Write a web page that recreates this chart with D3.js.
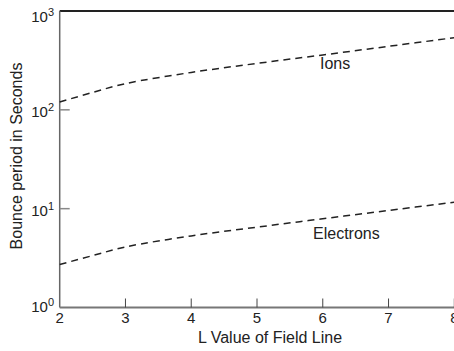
<!DOCTYPE html>
<html>
<head>
<meta charset="utf-8">
<script src="https://cdn.jsdelivr.net/npm/d3@7"></script>
<style>
  body { margin: 0; background: #fff; }
  text { font-family: "Liberation Sans", Arial, sans-serif; fill: #222; }
</style>
</head>
<body>
<div id="chart"></div>
<script>
// values
var lValues   = [2, 2.5, 3, 4, 5, 6, 7, 8];
var ionPeriod = [120, 150, 184, 239, 295, 359, 439, 537];
var elePeriod = [2.72, 3.35, 4.1, 5.3, 6.5, 7.9, 9.6, 11.6];
var xTicks = [2, 3, 4, 5, 6, 7, 8];
var yTicks = [1, 10, 100, 1000];
var yExps  = ["0", "1", "2", "3"];

var width = 454, height = 351;
var svg = d3.select("#chart").append("svg")
    .attr("width", width)
    .attr("height", height);

var x = d3.scaleLinear().domain([2, 8]).range([59.7, 454.3]);
var y = d3.scaleLog().domain([1, 1000]).range([307.5, 11]);

// top border
svg.append("line")
    .attr("x1", x(2)).attr("x2", width)
    .attr("y1", y(1000)).attr("y2", y(1000))
    .attr("stroke", "#222")
    .attr("stroke-width", 2);

// left axis
svg.append("line")
    .attr("x1", x(2)).attr("x2", x(2))
    .attr("y1", y(1000)).attr("y2", y(1))
    .attr("stroke", "#666")
    .attr("stroke-width", 1.5);

// bottom axis
svg.append("line")
    .attr("x1", x(2)).attr("x2", width)
    .attr("y1", y(1)).attr("y2", y(1))
    .attr("stroke", "#777")
    .attr("stroke-width", 2);

// x ticks (inward)
svg.selectAll("line.xtick").data(xTicks.slice(1)).enter()
    .append("line").attr("class", "xtick")
    .attr("x1", function(d) { return x(d); })
    .attr("x2", function(d) { return x(d); })
    .attr("y1", y(1)).attr("y2", y(1) - 9)
    .attr("stroke", "#444")
    .attr("stroke-width", 1);

svg.selectAll("text.xlab").data(xTicks).enter()
    .append("text").attr("class", "xlab")
    .attr("x", function(d) { return x(d); })
    .attr("y", 323)
    .attr("text-anchor", "middle")
    .attr("font-size", "15px")
    .text(function(d) { return d; });

// y ticks (inward)
svg.selectAll("line.ytick").data(yTicks.slice(1, 3)).enter()
    .append("line").attr("class", "ytick")
    .attr("x1", x(2)).attr("x2", x(2) + 10)
    .attr("y1", function(d) { return y(d); })
    .attr("y2", function(d) { return y(d); })
    .attr("stroke", "#888")
    .attr("stroke-width", 1.5);

var ylab = svg.selectAll("text.ylab").data(yTicks).enter()
    .append("text").attr("class", "ylab")
    .attr("x", 54)
    .attr("y", function(d) { return Math.max(22, Math.min(311.5, y(d) + 7)); })
    .attr("text-anchor", "end")
    .attr("font-size", "15px");
ylab.append("tspan").text("10");
ylab.append("tspan")
    .attr("font-size", "11px")
    .attr("dy", -6)
    .text(function(d, i) { return yExps[i]; });

// axis titles
svg.append("text")
    .attr("x", 270)
    .attr("y", 343)
    .attr("text-anchor", "middle")
    .attr("font-size", "16px")
    .text("L Value of Field Line");

svg.append("text")
    .attr("transform", "translate(22," + 156 + ") rotate(-90)")
    .attr("text-anchor", "middle")
    .attr("font-size", "16px")
    .text("Bounce period in Seconds");

// curves
var line = d3.line()
    .x(function(d) { return x(d[0]); })
    .y(function(d) { return y(d[1]); })
    .curve(d3.curveCatmullRom);

[ionPeriod, elePeriod].forEach(function(series) {
    svg.append("path")
        .datum(lValues.map(function(l, i) { return [l, series[i]]; }))
        .attr("d", line)
        .attr("fill", "none")
        .attr("stroke", "#222")
        .attr("stroke-width", 1.5)
        .attr("stroke-dasharray", "7,5");
});

// curve labels
svg.append("text")
    .attr("x", 320).attr("y", 69)
    .attr("font-size", "16px")
    .text("Ions");

svg.append("text")
    .attr("x", 313).attr("y", 239)
    .attr("font-size", "16px")
    .text("Electrons");
</script>
</body>
</html>
